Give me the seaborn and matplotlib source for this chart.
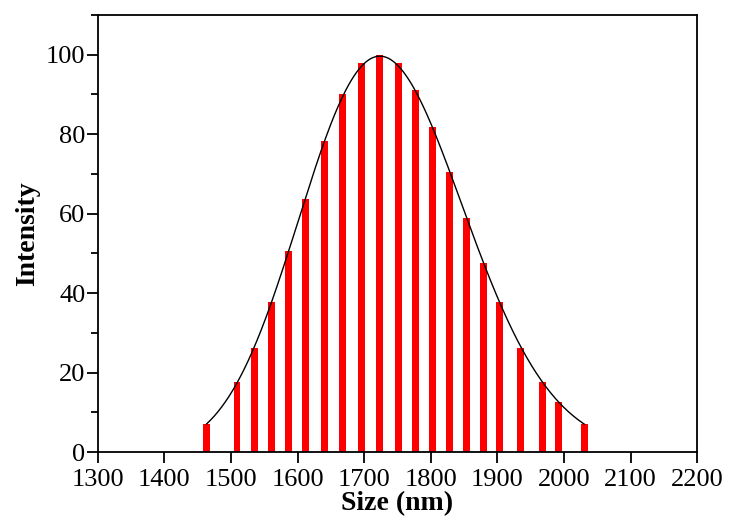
import numpy as np
import pandas as pd
import matplotlib
matplotlib.use("Agg")
import matplotlib.pyplot as plt
from matplotlib.ticker import MultipleLocator
import seaborn as sns

# Data
size_nm = [1463, 1509, 1535, 1561, 1587, 1612, 1640, 1667, 1696, 1723,
           1751, 1777, 1802, 1828, 1853, 1879, 1903, 1935, 1968, 1992, 2031]
intensity = [7.0, 17.5, 26.3, 37.7, 50.6, 63.8, 78.3, 90.0, 97.8, 100.0,
             97.8, 91.1, 81.7, 70.5, 58.9, 47.5, 37.7, 26.3, 17.5, 12.7, 7.0]
x_ticks = [1300, 1400, 1500, 1600, 1700, 1800, 1900, 2000, 2100, 2200]
y_ticks = [0, 20, 40, 60, 80, 100]

sns.set_style("ticks")
plt.rcParams['font.family'] = ['Liberation Serif', 'DejaVu Serif']
plt.rcParams['text.color'] = 'black'
plt.rcParams['axes.labelcolor'] = 'black'
plt.rcParams['xtick.color'] = 'black'
plt.rcParams['ytick.color'] = 'black'
plt.rcParams['axes.edgecolor'] = 'black'

df = pd.DataFrame({"Size": size_nm, "Intensity": intensity})

fig = plt.figure(figsize=(7.3, 5.27), dpi=100)
ax = fig.add_axes([0.134, 0.1423, 0.821, 0.8292])

bar_width_nm = 10.5
min_gap = np.min(np.diff(np.unique(df["Size"])))
sns.barplot(data=df, x="Size", y="Intensity", native_scale=True,
            width=bar_width_nm / min_gap, color="#ff0000", saturation=1,
            edgecolor="none", linewidth=0, errorbar=None, ax=ax, zorder=2)

# log-normal fit line through the bar tops
coef = np.polyfit(np.log(df["Size"]), np.log(df["Intensity"]), 2)
xf = np.linspace(df["Size"].min(), df["Size"].max(), 400)
yf = np.exp(np.polyval(coef, np.log(xf)))
sns.lineplot(x=xf, y=yf, color="black", linewidth=1.0, ax=ax, zorder=3)

ax.set_xlim(1300, 2200)
ax.set_ylim(0, 110)
ax.set_xticks(x_ticks)
ax.set_yticks(y_ticks)
ax.yaxis.set_minor_locator(MultipleLocator(10))
ax.tick_params(axis="both", which="major", direction="out", length=8,
               width=1.3, labelsize=19, pad=1, top=False, right=False,
               colors="black")
ax.tick_params(axis="x", which="major", pad=4)
ax.tick_params(axis="y", which="minor", direction="out", length=5, width=1.3,
               colors="black")
for s in ax.spines.values():
    s.set_visible(True)
    s.set_linewidth(1.3)
    s.set_color("black")

ax.set_xlabel("Size (nm)", fontsize=20, fontweight="bold", labelpad=0,
              color="black")
ax.set_ylabel("Intensity", fontsize=20, fontweight="bold", labelpad=4,
              color="black")

fig.savefig("out.png", dpi=100)
